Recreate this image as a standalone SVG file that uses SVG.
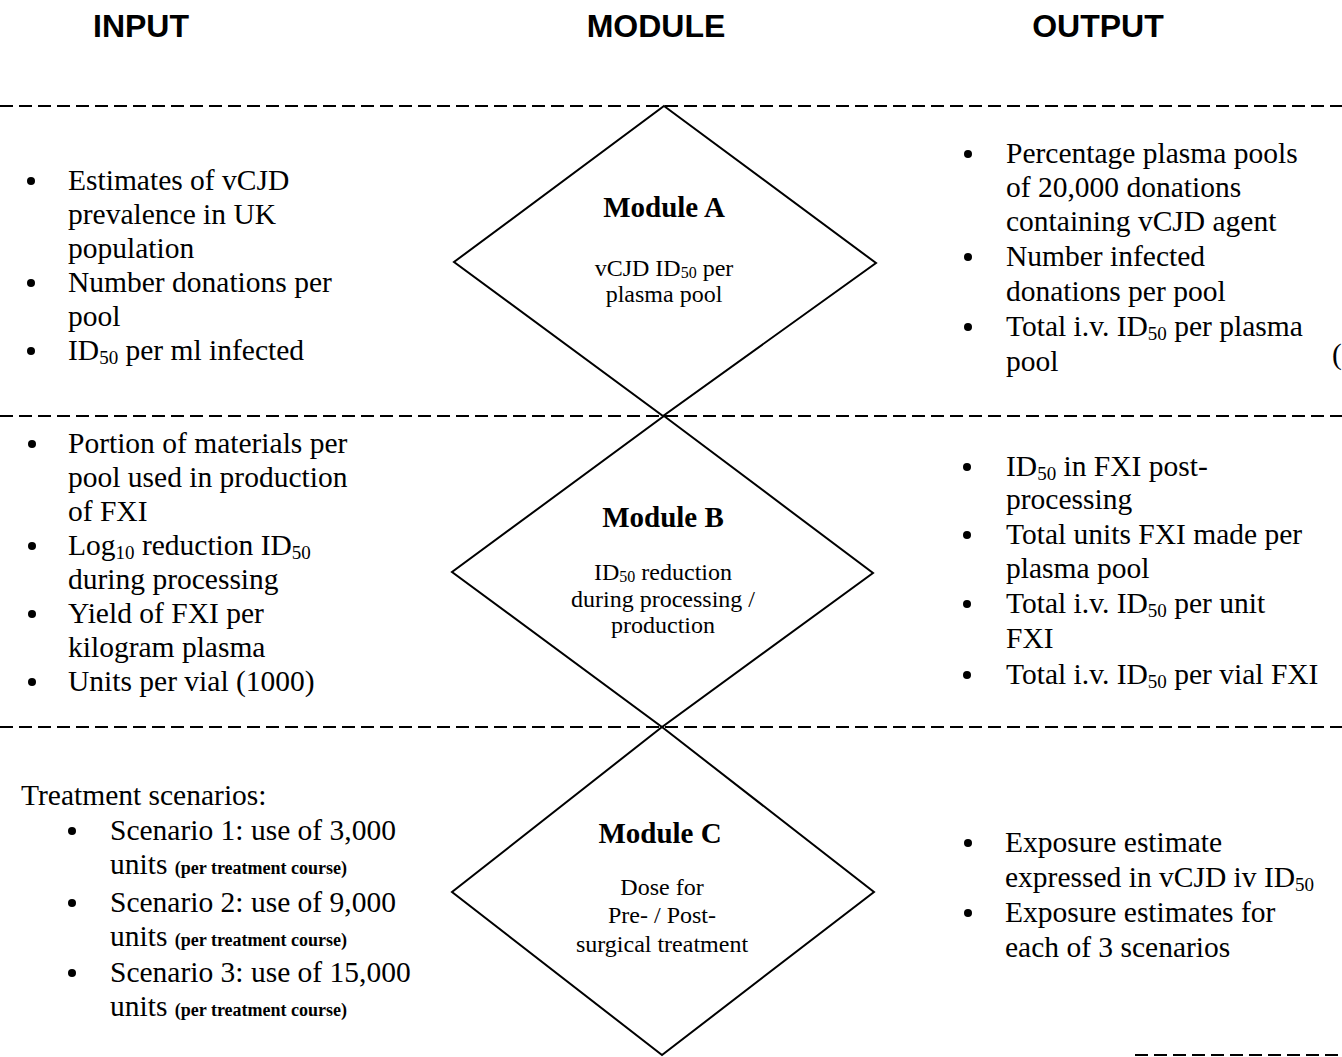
<svg xmlns="http://www.w3.org/2000/svg" width="1342" height="1057" viewBox="0 0 1342 1057">
<style>
.hdr{font-family:"Liberation Sans",Arial,sans-serif;font-weight:bold;font-size:32px;fill:#000;text-anchor:middle}
.t{font-family:"Liberation Serif","Times New Roman",serif;font-size:29.5px;fill:#000}
.mt{font-family:"Liberation Serif","Times New Roman",serif;font-size:29px;font-weight:bold;fill:#000;text-anchor:middle}
.ms{font-family:"Liberation Serif","Times New Roman",serif;font-size:24px;fill:#000;text-anchor:middle}
.sm{font-size:18px;font-weight:bold}
.dia{fill:none;stroke:#000;stroke-width:2}
.sep{stroke:#000;stroke-width:2;stroke-dasharray:13 6}
</style>
<rect width="1342" height="1057" fill="#fff"/>

<g id="headers">
<text class="hdr" x="141" y="37">INPUT</text>
<text class="hdr" x="656" y="37">MODULE</text>
<text class="hdr" x="1098" y="37">OUTPUT</text>
</g>

<g id="connectors">
<line class="sep" x1="0" y1="106" x2="1342" y2="106"/>
<line class="sep" x1="0" y1="416" x2="1342" y2="416"/>
<line class="sep" x1="0" y1="727" x2="1342" y2="727"/>
<line class="sep" x1="1135" y1="1055" x2="1342" y2="1055" stroke-width="3"/>
</g>

<g id="moduleA">
<polygon class="dia" points="664,106 876,263 663,416 454,262"/>
<text class="mt" x="664" y="217">Module A</text>
<text class="ms" x="664" y="276">vCJD ID<tspan font-size="16" dy="2">50</tspan><tspan dy="-2"> per</tspan></text>
<text class="ms" x="664" y="302">plasma pool</text>
</g>

<g id="moduleB">
<polygon class="dia" points="664,416 873,573 662,727 452,572"/>
<text class="mt" x="663" y="527">Module B</text>
<text class="ms" x="663" y="580">ID<tspan font-size="16" dy="2">50</tspan><tspan dy="-2"> reduction</tspan></text>
<text class="ms" x="663" y="607">during processing /</text>
<text class="ms" x="663" y="633">production</text>
</g>

<g id="moduleC">
<polygon class="dia" points="662,727 874,892 662,1055 452,892"/>
<text class="mt" x="660" y="843">Module C</text>
<text class="ms" x="662" y="895">Dose for</text>
<text class="ms" x="662" y="923">Pre- / Post-</text>
<text class="ms" x="662" y="952">surgical treatment</text>
</g>

<g id="inputA">
<circle cx="31" cy="181" r="4"/>
<circle cx="31" cy="283" r="4"/>
<circle cx="31" cy="351" r="4"/>
<text class="t" x="68" y="190">Estimates of vCJD</text>
<text class="t" x="68" y="224">prevalence in UK</text>
<text class="t" x="68" y="258">population</text>
<text class="t" x="68" y="292">Number donations per</text>
<text class="t" x="68" y="326">pool</text>
<text class="t" x="68" y="360">ID<tspan font-size="19" dy="4">50</tspan><tspan dy="-4"> per ml infected</tspan></text>
</g>

<g id="inputB">
<circle cx="32" cy="444" r="4"/>
<circle cx="32" cy="546" r="4"/>
<circle cx="32" cy="614" r="4"/>
<circle cx="32" cy="682" r="4"/>
<text class="t" x="68" y="453">Portion of materials per</text>
<text class="t" x="68" y="487">pool used in production</text>
<text class="t" x="68" y="521">of FXI</text>
<text class="t" x="68" y="555">Log<tspan font-size="19" dy="4">10</tspan><tspan dy="-4"> reduction ID</tspan><tspan font-size="19" dy="4">50</tspan></text>
<text class="t" x="68" y="589">during processing</text>
<text class="t" x="68" y="623">Yield of FXI per</text>
<text class="t" x="68" y="657">kilogram plasma</text>
<text class="t" x="68" y="691">Units per vial (1000)</text>
</g>

<g id="inputC">
<text class="t" x="21" y="805">Treatment scenarios:</text>
<circle cx="72" cy="831" r="4"/>
<circle cx="72" cy="903" r="4"/>
<circle cx="72" cy="973" r="4"/>
<text class="t" x="110" y="840">Scenario 1: use of 3,000</text>
<text class="t" x="110" y="874">units <tspan class="sm">(per treatment course)</tspan></text>
<text class="t" x="110" y="912">Scenario 2: use of 9,000</text>
<text class="t" x="110" y="946">units <tspan class="sm">(per treatment course)</tspan></text>
<text class="t" x="110" y="982">Scenario 3: use of 15,000</text>
<text class="t" x="110" y="1016">units <tspan class="sm">(per treatment course)</tspan></text>
</g>

<g id="outputA">
<circle cx="968" cy="154" r="4"/>
<circle cx="968" cy="257" r="4"/>
<circle cx="968" cy="327" r="4"/>
<text class="t" x="1006" y="163">Percentage plasma pools</text>
<text class="t" x="1006" y="197">of 20,000 donations</text>
<text class="t" x="1006" y="231">containing vCJD agent</text>
<text class="t" x="1006" y="266">Number infected</text>
<text class="t" x="1006" y="301">donations per pool</text>
<text class="t" x="1006" y="336">Total i.v. ID<tspan font-size="19" dy="4">50</tspan><tspan dy="-4"> per plasma</tspan></text>
<text class="t" x="1006" y="371">pool</text>
<text class="t" x="1332" y="364">(</text>
</g>

<g id="outputB">
<circle cx="967" cy="467" r="4"/>
<circle cx="967" cy="535" r="4"/>
<circle cx="967" cy="604" r="4"/>
<circle cx="967" cy="675" r="4"/>
<text class="t" x="1006" y="476">ID<tspan font-size="19" dy="4">50</tspan><tspan dy="-4"> in FXI post-</tspan></text>
<text class="t" x="1006" y="509">processing</text>
<text class="t" x="1006" y="544">Total units FXI made per</text>
<text class="t" x="1006" y="578">plasma pool</text>
<text class="t" x="1006" y="613">Total i.v. ID<tspan font-size="19" dy="4">50</tspan><tspan dy="-4"> per unit</tspan></text>
<text class="t" x="1006" y="648">FXI</text>
<text class="t" x="1006" y="684">Total i.v. ID<tspan font-size="19" dy="4">50</tspan><tspan dy="-4"> per vial FXI</tspan></text>
</g>

<g id="outputC">
<circle cx="968" cy="843" r="4"/>
<circle cx="968" cy="913" r="4"/>
<text class="t" x="1005" y="852">Exposure estimate</text>
<text class="t" x="1005" y="887">expressed in vCJD iv ID<tspan font-size="19" dy="4">50</tspan></text>
<text class="t" x="1005" y="922">Exposure estimates for</text>
<text class="t" x="1005" y="957">each of 3 scenarios</text>
</g>
</svg>
